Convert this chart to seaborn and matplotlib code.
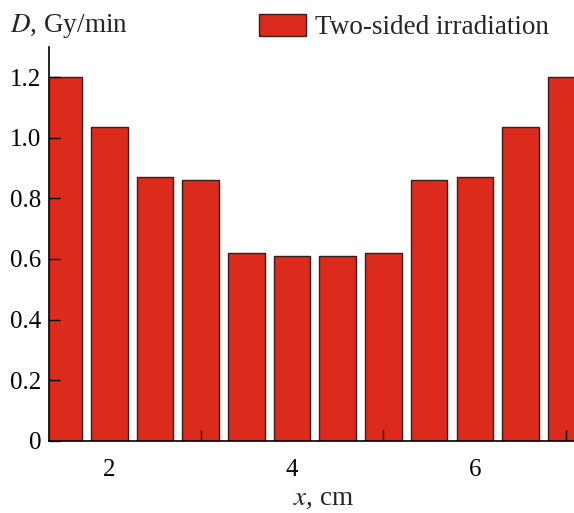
import numpy as np
import pandas as pd
import seaborn as sns
import matplotlib
matplotlib.use("Agg")
import matplotlib.pyplot as plt
from matplotlib.ticker import FixedLocator

positions = [1.5, 2.0, 2.5, 3.0, 3.5, 4.0, 4.5, 5.0, 5.5, 6.0, 6.5, 7.0]
dose = [1.20, 1.035, 0.870, 0.860, 0.619, 0.611, 0.611, 0.619, 0.860, 0.870, 1.035, 1.20]
series_label = "Two-sided irradiation"
x_ticks = [2, 4, 6]
y_ticks = [0, 0.2, 0.4, 0.6, 0.8, 1.0, 1.2]
y_tick_labels = ["0", "0.2", "0.4", "0.6", "0.8", "1.0", "1.2"]

sns.set_theme(style="white")
plt.rcParams['font.family'] = ['Liberation Serif', 'DejaVu Serif']
plt.rcParams['mathtext.fontset'] = 'stix'

df = pd.DataFrame({"x": positions, "D": dose})

fig = plt.figure(figsize=(5.74, 5.13), dpi=100)
ax = fig.add_axes([0.0862, 0.1404, 0.9138, 0.7686])

sns.barplot(data=df, x="x", y="D", native_scale=True, width=0.8,
            color="#DC2A1C", saturation=1, edgecolor="#3a1c1a", linewidth=1.0,
            label=series_label, ax=ax, legend=False)

ax.set_xlim(1.346, 7.085)
ax.set_ylim(0, 1.3)
ax.set_axisbelow(False)

for s in ["top", "right"]:
    ax.spines[s].set_visible(False)
for s in ["left", "bottom"]:
    ax.spines[s].set_color("black")
    ax.spines[s].set_linewidth(1.2)
    ax.spines[s].set_zorder(5)

ax.set_xticks(x_ticks)
ax.set_xticklabels([str(t) for t in x_ticks])
ax.xaxis.set_minor_locator(FixedLocator([3, 5, 7]))
ax.tick_params(axis="x", which="major", length=0, labelsize=18, pad=13, colors="black")
ax.tick_params(axis="x", which="minor", direction="in", length=8, width=1, color="black", bottom=True)
ax.set_yticks(y_ticks)
ax.set_yticklabels(y_tick_labels)
ax.tick_params(axis="y", which="major", direction="in", length=8, width=1, labelsize=18, pad=6, colors="black", left=True)

ax.set_xlabel("")
ax.set_ylabel("")
fig.text(0.563, 0.016, r"$x$, cm", fontsize=19.5, ha="center", va="baseline")
fig.text(0.017, 0.9376, r"$D$, Gy/min", fontsize=19.5, ha="left", va="baseline")

handles, labels = ax.get_legend_handles_labels()
leg = fig.legend(handles[:1], labels[:1], loc="upper left", bbox_to_anchor=(259 / 574, 1 - 14 / 513),
                 frameon=False, fontsize=19.5, handlelength=1.74, handleheight=0.85,
                 handletextpad=0.33, borderaxespad=0, borderpad=0)

fig.savefig("out.png", dpi=100)
